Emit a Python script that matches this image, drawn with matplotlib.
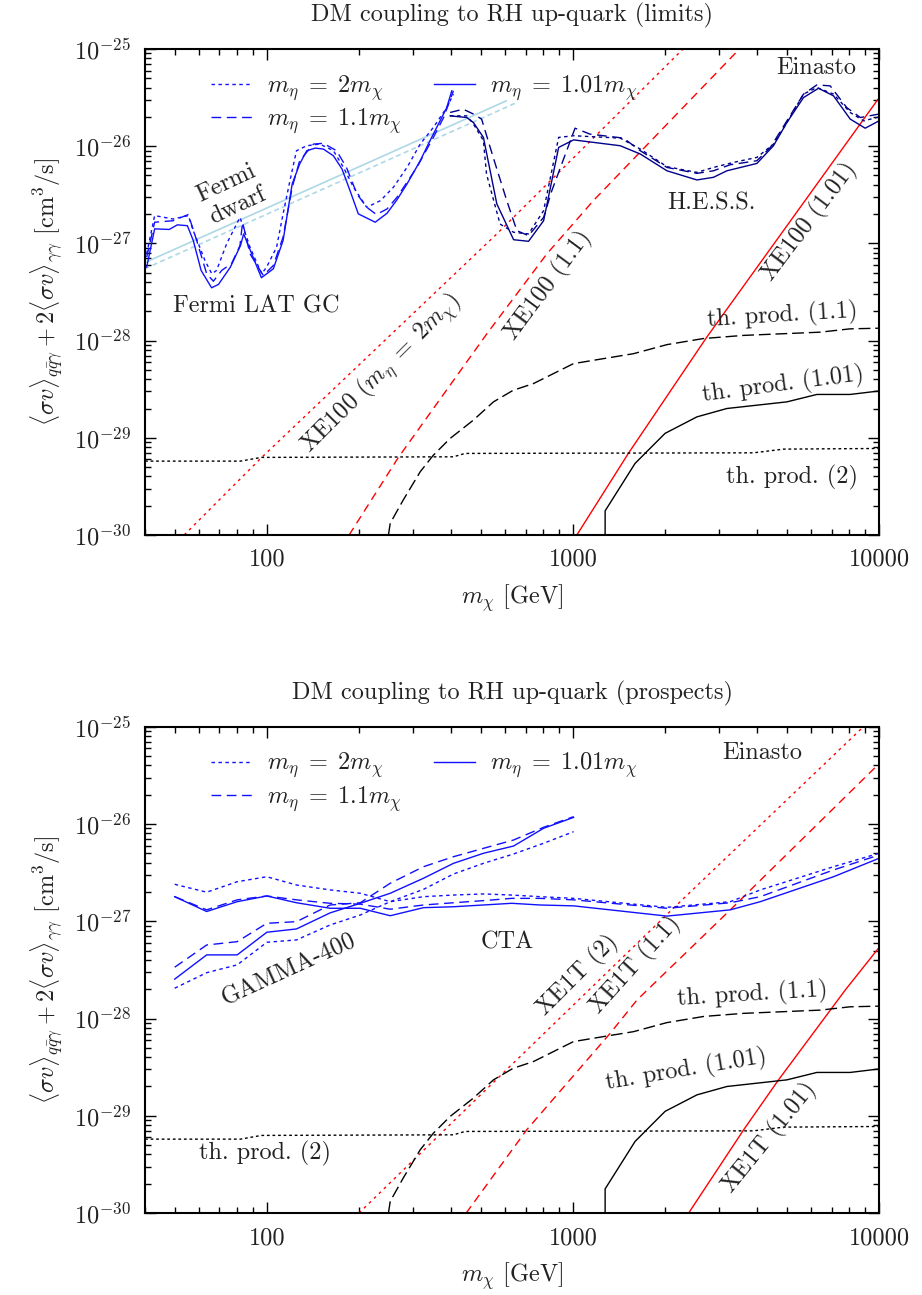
import numpy as np
import matplotlib
matplotlib.use('Agg')
import matplotlib.pyplot as plt
from matplotlib.ticker import FixedLocator, FuncFormatter, NullFormatter
from matplotlib.lines import Line2D

plt.rcParams['font.family'] = ['cmr10', 'DejaVu Serif']
plt.rcParams['mathtext.fontset'] = 'cm'
plt.rcParams['axes.formatter.use_mathtext'] = True
plt.rcParams['font.size'] = 17.5

# ---------------- data : limits (top panel) ----------------
# Fermi LAT GC line search
fermi_m_101 = [40.5, 43, 48, 51, 55, 57.5, 61, 66, 69.5, 76, 82, 84, 96, 105, 113, 121, 128, 135,
               144, 153, 165, 176, 187, 199, 226, 247, 266, 287, 317, 341, 368, 387, 402]
fermi_sv_101 = [5.69e-28, 1.41e-27, 1.39e-27, 1.55e-27, 1.52e-27, 1.07e-27, 5.26e-28, 3.49e-28,
                3.78e-28, 5.69e-28, 9.48e-28, 1.25e-27, 4.43e-28, 5.47e-28, 1.07e-27, 4.08e-27,
                6.55e-27, 8.97e-27, 9.55e-27, 9.33e-27, 7.96e-27, 5.82e-27, 3.48e-27, 2.01e-27,
                1.65e-27, 2.04e-27, 2.80e-27, 4.08e-27, 7.08e-27, 1.135e-26, 1.82e-26, 2.49e-26, 3.71e-26]
fermi_m_11 = [40.5, 43, 49.4, 55.4, 59, 63.6, 66.9, 71.2, 76.8, 81.7, 83.3, 88.1, 97.4, 105, 113,
              121, 128, 142, 153, 169, 182, 197, 212, 228, 247, 266, 309, 350, 378, 407]
fermi_sv_11 = [7.21e-28, 1.65e-27, 1.71e-27, 1.98e-27, 1.07e-27, 4.86e-28, 4.08e-28, 5.26e-28,
               6.25e-28, 9.48e-28, 1.65e-27, 7.80e-28, 4.67e-28, 5.92e-28, 1.16e-27, 3.77e-27,
               7.08e-27, 1.05e-26, 1.07e-26, 8.97e-27, 6.04e-27, 3.22e-27, 2.35e-27, 1.98e-27,
               2.26e-27, 2.97e-27, 6.04e-27, 1.23e-26, 1.97e-26, 3.71e-26]
fermi_m_2 = [40.5, 43, 49.4, 55.4, 57.5, 62.8, 66.1, 68.5, 73.9, 81.7, 88.1, 96.2, 99.8, 107.6,
             113, 119, 125, 135, 149, 165, 178, 192, 212, 235, 259, 287, 317, 350, 387, 407]
fermi_sv_2 = [7.80e-28, 1.93e-27, 1.78e-27, 1.93e-27, 1.35e-27, 6.65e-28, 4.86e-28, 5.26e-28,
              9.89e-28, 1.85e-27, 9.12e-28, 4.86e-28, 5.69e-28, 9.12e-28, 2.01e-27, 4.42e-27,
              8.97e-27, 1.01e-26, 1.05e-26, 8.97e-27, 6.04e-27, 3.77e-27, 2.35e-27, 2.75e-27,
              3.77e-27, 6.04e-27, 1.05e-26, 1.56e-26, 2.49e-26, 3.43e-26]

# H.E.S.S. line search
hess_m_101 = [397, 450, 473, 510, 564, 640, 716, 802, 898, 1005, 1427, 1660, 2028, 2541, 2878,
              3184, 3990, 4520, 5000, 5665, 6343, 7102, 8050, 9010, 10000]
hess_sv_101 = [2.05e-26, 1.97e-26, 1.75e-26, 1.23e-26, 2.55e-27, 1.09e-27, 1.05e-27, 1.71e-27,
               9.70e-27, 1.16e-26, 1.01e-26, 8.30e-27, 5.58e-27, 4.49e-27, 4.78e-27, 5.58e-27,
               6.64e-27, 1.01e-26, 1.75e-26, 3.16e-26, 3.94e-26, 3.29e-26, 1.90e-26, 1.53e-26, 1.82e-26]
hess_m_11 = [397, 438, 473, 503, 549, 608, 656, 716, 802, 853, 1016, 1137, 1462, 1660, 2028, 2541,
             2878, 3266, 3990, 4416, 5000, 5665, 6266, 6925, 7846, 8690, 10000]
hess_sv_11 = [2.22e-26, 2.40e-26, 2.14e-26, 1.90e-26, 7.66e-27, 2.75e-27, 1.35e-27, 1.20e-27,
              1.85e-27, 3.48e-27, 1.53e-26, 1.33e-26, 1.21e-26, 8.97e-27, 6.04e-27, 5.25e-27,
              5.58e-27, 6.44e-27, 7.08e-27, 9.70e-27, 1.82e-26, 3.43e-26, 4.27e-26, 4.17e-26,
              2.49e-26, 1.97e-26, 2.14e-26]
hess_m_2 = [397, 450, 473, 510, 522, 578, 640, 716, 802, 898, 1005, 1427, 1660, 2028, 2541, 2878,
            3350, 3990, 4520, 5000, 5665, 6266, 7102, 8050, 8913, 10000]
hess_sv_2 = [2.05e-26, 2.05e-26, 1.69e-26, 1.14e-26, 5.16e-27, 1.58e-27, 1.30e-27, 1.25e-27,
             2.17e-27, 1.23e-26, 1.28e-26, 1.21e-26, 9.33e-27, 6.15e-27, 5.37e-27, 6.04e-27,
             6.81e-27, 7.66e-27, 1.05e-26, 1.75e-26, 3.43e-26, 4.01e-26, 3.43e-26, 2.22e-26,
             1.82e-26, 2.00e-26]

# Fermi dwarf
dwarf_m = [40, 605]
dwarf_sv = [6.35e-28, 2.92e-26]
dwarf_m_b = [40, 652]
dwarf_sv_b = [5.5e-28, 2.79e-26]

# XENON100
xe100_m_2 = [53.7, 96.2, 564, 2290]
xe100_sv_2 = [1e-30, 6.28e-30, 1.25e-27, 1.0e-25]
xe100_m_11 = [185.7, 269, 524, 822, 1166, 3500]
xe100_sv_11 = [1e-30, 6.28e-30, 1.18e-28, 7.80e-28, 2.75e-27, 1.0e-25]
xe100_m_101 = [1030, 1517, 2740, 10000]
xe100_sv_101 = [1e-30, 6.90e-30, 1.09e-28, 3.14e-26]

# thermal production
th_m_2 = [40, 82, 96, 407, 444, 3890, 4875, 10000]
th_sv_2 = [5.75e-30, 5.75e-30, 6.28e-30, 6.37e-30, 6.9e-30, 7.0e-30, 7.64e-30, 7.76e-30]
th_m_11 = [249.6, 253, 279, 317, 350, 397, 473, 550, 638, 743, 1004, 1259, 1578, 2028, 2673,
           3608, 6427, 8050, 10000]
th_sv_11 = [1.0e-30, 1.32e-30, 2.29e-30, 4.47e-30, 6.62e-30, 9.84e-30, 1.52e-29, 2.34e-29,
            3.08e-29, 3.61e-29, 5.79e-29, 6.52e-29, 7.33e-29, 9.08e-29, 1.05e-28, 1.13e-28,
            1.22e-28, 1.32e-28, 1.34e-28]
th_m_101 = [1274, 1274, 1596, 2000, 2541, 3184, 5000, 6266, 8050, 10000]
th_sv_101 = [9e-31, 1.77e-30, 5.45e-30, 1.11e-29, 1.64e-29, 2.00e-29, 2.34e-29, 2.79e-29,
             2.79e-29, 3.03e-29]

# ---------------- data : prospects (bottom panel) ----------------
gamma_m = [50, 63.6, 80, 100, 125, 161, 202, 253, 325, 407, 510, 640, 802, 1005]
gamma_sv_101 = [2.54e-28, 4.51e-28, 4.51e-28, 7.71e-28, 8.34e-28, 1.22e-27, 1.53e-27, 1.94e-27,
                2.77e-27, 3.94e-27, 5.00e-27, 5.94e-27, 9.04e-27, 1.17e-26]
gamma_sv_11 = [3.37e-28, 5.70e-28, 6.17e-28, 9.53e-28, 9.91e-28, 1.47e-27, 1.55e-27, 2.46e-27,
               3.64e-27, 4.61e-27, 5.62e-27, 6.85e-27, 9.25e-27, 1.19e-26]
gamma_sv_2 = [2.05e-28, 2.96e-28, 3.56e-28, 6.08e-28, 6.43e-28, 9.16e-28, 1.16e-27, 1.59e-27,
              2.13e-27, 3.06e-27, 3.94e-27, 4.92e-27, 6.34e-27, 8.34e-27]

cta_m = [50, 63.6, 80, 100, 125, 161, 202, 253, 325, 407, 510, 631, 781, 1005, 2028, 3266, 4093,
         7102, 10000]
cta_sv_101 = [1.79e-27, 1.26e-27, 1.59e-27, 1.82e-27, 1.55e-27, 1.36e-27, 1.36e-27, 1.14e-27,
              1.38e-27, 1.41e-27, 1.47e-27, 1.53e-27, 1.47e-27, 1.44e-27, 1.13e-27, 1.31e-27,
              1.59e-27, 2.87e-27, 4.44e-27]
cta_sv_11 = [1.79e-27, 1.31e-27, 1.66e-27, 1.82e-27, 1.66e-27, 1.53e-27, 1.50e-27, 1.33e-27,
             1.47e-27, 1.55e-27, 1.63e-27, 1.72e-27, 1.72e-27, 1.66e-27, 1.36e-27, 1.55e-27,
             1.79e-27, 3.37e-27, 4.80e-27]
cta_sv_2 = [2.40e-27, 1.99e-27, 2.55e-27, 2.87e-27, 2.36e-27, 2.10e-27, 1.94e-27, 1.59e-27,
            1.79e-27, 1.86e-27, 1.91e-27, 1.86e-27, 1.79e-27, 1.72e-27, 1.39e-27, 1.59e-27,
            2.10e-27, 3.64e-27, 5.00e-27]

# XENON1T
xe1t_m_2 = [200, 564, 2128, 8890]
xe1t_sv_2 = [1e-30, 2.38e-29, 1.36e-27, 1e-25]
xe1t_m_11 = [448, 706, 1324, 1619, 3266, 10000]
xe1t_sv_11 = [1e-30, 7.16e-30, 7.06e-29, 1.55e-28, 1.31e-27, 4.17e-26]
xe1t_m_101 = [2388, 3610, 4695, 7762, 10000]
xe1t_sv_101 = [1e-30, 7.16e-30, 2.34e-29, 1.97e-28, 5.37e-28]

# axis ticks
x_major = [100, 1000, 10000]
x_minor = [m * d for d in (10, 100, 1000) for m in range(2, 10) if 40 <= m * d <= 10000]
y_major = [1e-30, 1e-29, 1e-28, 1e-27, 1e-26, 1e-25]
y_minor = [m * d for d in y_major[:-1] for m in range(2, 10)]

# ---------------- styles ----------------
DOT = (0, (2.5, 2.5))
DASH = (0, (7, 4))
TXT = '#222222'
BLUE = '#1010ff'
NAVY = '#00008b'

fig = plt.figure(figsize=(9.22, 12.95), dpi=100)
ax1 = fig.add_axes([0.1573, 0.5869, 0.7961, 0.3753])
ax2 = fig.add_axes([0.1573, 0.0633, 0.7961, 0.3755])


def style_axes(ax, title):
    ax.set_xscale('log')
    ax.set_yscale('log')
    ax.set_xlim(40, 10000)
    ax.set_ylim(1e-30, 1e-25)
    ax.xaxis.set_major_locator(FixedLocator(x_major))
    ax.xaxis.set_minor_locator(FixedLocator(x_minor))
    ax.xaxis.set_major_formatter(FuncFormatter(lambda v, p: '%d' % round(v)))
    ax.xaxis.set_minor_formatter(NullFormatter())
    ax.yaxis.set_major_locator(FixedLocator(y_major))
    ax.yaxis.set_minor_locator(FixedLocator(y_minor))
    ax.yaxis.set_major_formatter(FuncFormatter(lambda v, p: r'$10^{%d}$' % round(np.log10(v))))
    ax.yaxis.set_minor_formatter(NullFormatter())
    ax.tick_params(which='both', direction='in', top=True, right=True, width=1,
                   labelcolor=TXT, labelsize=17.5, pad=10)
    ax.tick_params(which='major', length=8)
    ax.tick_params(which='minor', length=4)
    for s in ax.spines.values():
        s.set_linewidth(1.5)
    ax.set_xlabel(r'$m_\chi$ [GeV]', color=TXT, labelpad=8)
    ax.set_ylabel(r'$\langle\sigma v\rangle_{q\bar{q}\gamma}+2\langle\sigma v\rangle_{\gamma\gamma}$ [cm$^3$/s]',
                  color=TXT, labelpad=6)
    ax.set_title(title, color=TXT, pad=20, fontsize=17.5)
    handles = [Line2D([], [], color=BLUE, lw=1, linestyle=DOT),
               Line2D([], [], color=BLUE, lw=1, linestyle=DASH),
               Line2D([], [], color=BLUE, lw=1, linestyle='-')]
    labels = [r'$m_\eta\;=\;2m_\chi$', r'$m_\eta\;=\;1.1m_\chi$', r'$m_\eta\;=\;1.01m_\chi$']
    leg = ax.legend(handles, labels, ncol=2, loc='upper left', bbox_to_anchor=(0.09, 0.95),
                    frameon=False, handlelength=1.7, handletextpad=0.6, columnspacing=1.3,
                    labelspacing=0.15, borderpad=0, borderaxespad=0, fontsize=17.5)
    for t in leg.get_texts():
        t.set_color(TXT)


def th_lines(ax):
    ax.plot(th_m_2, th_sv_2, color='black', lw=1, linestyle=(0, (2, 2)))
    ax.plot(th_m_11, th_sv_11, color='black', lw=1, linestyle=(0, (8.5, 3.5)))
    ax.plot(th_m_101, th_sv_101, color='black', lw=1)


def label(ax, x, y, s, rot=0):
    ax.text(x, y, s, transform=ax.transAxes, ha='center', va='center', rotation=rot,
            rotation_mode='anchor', color=TXT, fontsize=17.5)


# ---------------- top panel ----------------
style_axes(ax1, 'DM coupling to RH up-quark (limits)')
ax1.plot(dwarf_m, dwarf_sv, color='lightblue', lw=1.2)
ax1.plot(dwarf_m_b, dwarf_sv_b, color='lightblue', lw=1.2, linestyle=(0, (3, 2)))
ax1.plot(xe100_m_2, xe100_sv_2, color='red', lw=1, linestyle=(0, (2, 3)))
ax1.plot(xe100_m_11, xe100_sv_11, color='red', lw=1, linestyle=(0, (6, 4)))
ax1.plot(xe100_m_101, xe100_sv_101, color='red', lw=1)
th_lines(ax1)
ax1.plot(fermi_m_2, fermi_sv_2, color=BLUE, lw=1, linestyle=DOT)
ax1.plot(fermi_m_11, fermi_sv_11, color=BLUE, lw=1, linestyle=DASH)
ax1.plot(fermi_m_101, fermi_sv_101, color=BLUE, lw=1)
ax1.plot(hess_m_2, hess_sv_2, color=NAVY, lw=1, linestyle=DOT)
ax1.plot(hess_m_11, hess_sv_11, color=NAVY, lw=1, linestyle=DASH)
ax1.plot(hess_m_101, hess_sv_101, color=NAVY, lw=1)

label(ax1, 0.1185, 0.70, 'Fermi\ndwarf', 25)
label(ax1, 0.151, 0.471, 'Fermi LAT GC')
label(ax1, 0.772, 0.683, 'H.E.S.S.')
label(ax1, 0.914, 0.961, 'Einasto')
label(ax1, 0.322, 0.330, r'XE100 ($m_\eta\;=\;2m_\chi$)', 45)
label(ax1, 0.549, 0.514, 'XE100 (1.1)', 53.5)
label(ax1, 0.906, 0.645, 'XE100 (1.01)', 53)
label(ax1, 0.868, 0.451, 'th. prod. (1.1)', 3.5)
label(ax1, 0.869, 0.309, 'th. prod. (1.01)', 7.5)
label(ax1, 0.881, 0.119, 'th. prod. (2)')

# ---------------- bottom panel ----------------
style_axes(ax2, 'DM coupling to RH up-quark (prospects)')
ax2.plot(xe1t_m_2, xe1t_sv_2, color='red', lw=1, linestyle=(0, (2, 3)))
ax2.plot(xe1t_m_11, xe1t_sv_11, color='red', lw=1, linestyle=(0, (6, 4)))
ax2.plot(xe1t_m_101, xe1t_sv_101, color='red', lw=1)
th_lines(ax2)
ax2.plot(gamma_m, gamma_sv_2, color=BLUE, lw=1, linestyle=DOT)
ax2.plot(gamma_m, gamma_sv_11, color=BLUE, lw=1, linestyle=DASH)
ax2.plot(gamma_m, gamma_sv_101, color=BLUE, lw=1)
ax2.plot(cta_m, cta_sv_2, color=BLUE, lw=1, linestyle=DOT)
ax2.plot(cta_m, cta_sv_11, color=BLUE, lw=1, linestyle=DASH)
ax2.plot(cta_m, cta_sv_101, color=BLUE, lw=1)

label(ax2, 0.841, 0.946, 'Einasto')
label(ax2, 0.493, 0.557, 'CTA')
label(ax2, 0.196, 0.500, 'GAMMA-400', 24.5)
label(ax2, 0.590, 0.489, 'XE1T (2)', 45)
label(ax2, 0.669, 0.510, 'XE1T (1.1)', 48)
label(ax2, 0.851, 0.154, 'XE1T (1.01)', 51)
label(ax2, 0.828, 0.448, 'th. prod. (1.1)', 3.5)
label(ax2, 0.737, 0.294, 'th. prod. (1.01)', 9.5)
label(ax2, 0.163, 0.123, 'th. prod. (2)')

fig.savefig('out.png', dpi=100)
